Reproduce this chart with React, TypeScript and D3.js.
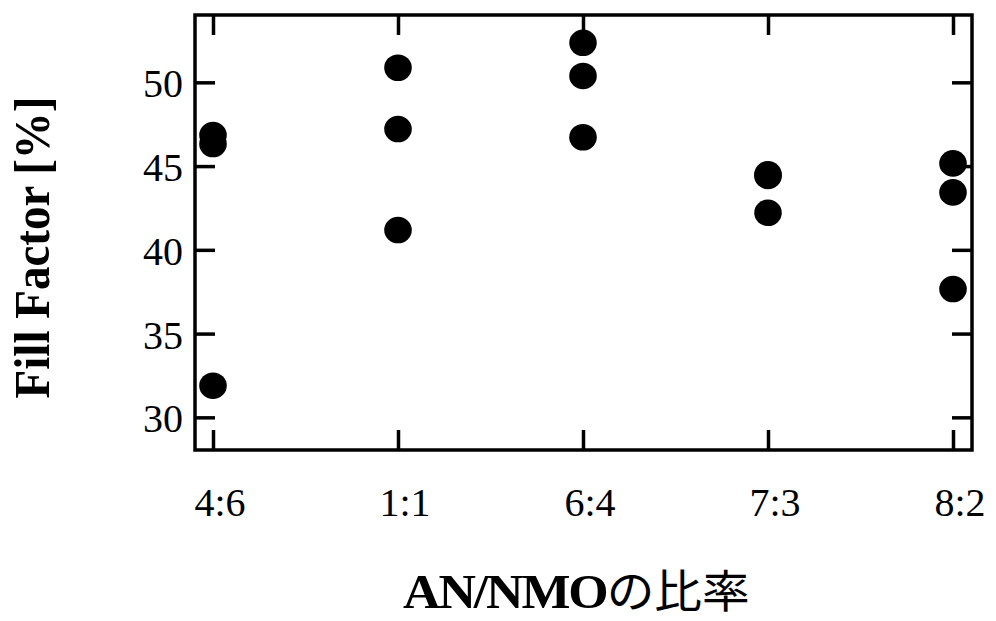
import React, { useEffect, useRef } from 'react';
import * as d3 from 'd3';

// AN/NMO ratio categories and the three fill factor measurements per ratio
const categories = ['4:6', '1:1', '6:4', '7:3', '8:2'];
const highValues = [46.85, 50.87, 52.36, 44.51, 45.16];
const midValues = [46.32, 47.21, 50.38, 44.41, 43.43];
const lowValues = [31.89, 41.18, 46.72, 42.21, 37.66];
const yTicks = [30, 35, 40, 45, 50];

const App: React.FC = () => {
  const svgRef = useRef(null);

  useEffect(() => {
    if (!svgRef.current) return;
    const width = 996;
    const height = 621;
    const left = 195;
    const right = 972;
    const top = 15;
    const bottom = 450;
    const serif = '"Liberation Serif", "DejaVu Serif", serif';

    const svg = d3.select(svgRef.current);
    svg.selectAll('*').remove();
    svg.attr('width', width).attr('height', height);

    const x = d3.scalePoint().domain(categories).range([213, 953]);
    const y = d3.scaleLinear().domain([28.05, 54.02]).range([bottom, top]);

    const tickStyle = (g: any) => {
      g.select('.domain').remove();
      g.selectAll('.tick line').attr('stroke', '#000').attr('stroke-width', 3.5);
      g.selectAll('.tick text').remove();
    };

    svg.append('g').attr('transform', `translate(0,${bottom})`)
      .call(d3.axisBottom(x).tickSize(-20)).call(tickStyle);
    svg.append('g').attr('transform', `translate(0,${top})`)
      .call(d3.axisTop(x).tickSize(-20)).call(tickStyle);
    svg.append('g').attr('transform', `translate(${left},0)`)
      .call(d3.axisLeft(y).tickValues(yTicks).tickSize(-20)).call(tickStyle);
    svg.append('g').attr('transform', `translate(${right},0)`)
      .call(d3.axisRight(y).tickValues(yTicks).tickSize(-20)).call(tickStyle);

    svg.append('rect')
      .attr('x', left).attr('y', top)
      .attr('width', right - left).attr('height', bottom - top)
      .attr('fill', 'none').attr('stroke', '#000').attr('stroke-width', 3.5);

    // tick labels
    svg.append('g')
      .attr('font-family', serif)
      .attr('font-size', 40)
      .attr('text-anchor', 'end')
      .selectAll('text')
      .data(yTicks)
      .join('text')
      .attr('x', 183)
      .attr('y', (d) => y(d) + 15)
      .text((d) => String(d));

    svg.append('g')
      .attr('font-family', serif)
      .attr('font-size', 40)
      .attr('text-anchor', 'middle')
      .selectAll('text')
      .data(categories)
      .join('text')
      .attr('x', (d) => (x(d) as number) + 7)
      .attr('y', 516)
      .text((d) => d);

    // points
    const points: { cat: string; value: number }[] = [];
    categories.forEach((c, i) => {
      points.push({ cat: c, value: highValues[i] });
      points.push({ cat: c, value: midValues[i] });
      points.push({ cat: c, value: lowValues[i] });
    });
    svg.append('g')
      .selectAll('ellipse')
      .data(points)
      .join('ellipse')
      .attr('cx', (d) => x(d.cat) as number)
      .attr('cy', (d) => y(d.value))
      .attr('rx', 13.8)
      .attr('ry', 13.3)
      .attr('fill', '#000');

    // axis titles
    svg.append('text')
      .attr('transform', `translate(49,${(top + bottom) / 2 + 15}) scale(1.1,1) rotate(-90)`)
      .attr('text-anchor', 'middle')
      .attr('font-family', serif)
      .attr('font-weight', 'bold')
      .attr('font-size', 47)
      .text('Fill Factor [%]');

    const title = svg.append('text')
      .attr('transform', `translate(403,608) scale(1.06,1)`)
      .attr('font-size', 49);
    title.append('tspan')
      .attr('font-family', serif)
      .attr('font-weight', 'bold')
      .attr('letter-spacing', -2)
      .text('AN/NMO');
    title.append('tspan')
      .attr('font-family', '"Noto Sans CJK JP", sans-serif')
      .attr('font-weight', 'normal')
      .attr('font-size', 45)
      .text('の比率');
  }, []);

  return (
    <svg
      ref={svgRef}
      width={996}
      height={621}
      style={{ position: 'absolute', left: 0, top: 0, background: '#fff' }}
    />
  );
};

export default App;
